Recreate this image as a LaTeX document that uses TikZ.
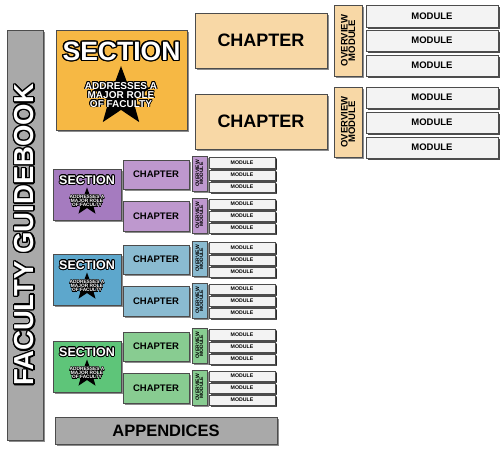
\documentclass[tikz,border=0pt]{standalone}
\usepackage{fontspec}
\setmainfont{Liberation Sans}
\usepackage{contour}
\usetikzlibrary{shapes.geometric,shadows}
\definecolor{secO}{HTML}{F6B844}
\definecolor{chO}{HTML}{F8D8A6}
\definecolor{secP}{HTML}{A57BBF}
\definecolor{chP}{HTML}{BE98CE}
\definecolor{secB}{HTML}{5DA7CC}
\definecolor{chB}{HTML}{8ABBD1}
\definecolor{secG}{HTML}{5EC579}
\definecolor{chG}{HTML}{88CC91}
\definecolor{modF}{HTML}{F3F3F3}
\definecolor{barG}{HTML}{A9A9A9}
\newcommand\wt[2]{{\contourlength{#1}\contour{black}{#2}}}
\newcommand\fs[1]{\bfseries\fontsize{#1}{#1}\selectfont}
\tikzset{
 bx/.style={draw=black!70, line width=0.6pt, inner sep=0pt,
   drop shadow={shadow xshift=2pt,shadow yshift=-2pt,opacity=0.45,fill=black}},
 bigmod/.style={bx, fill=modF, font=\fs{9.5}},
 smod/.style={bx, fill=modF, font=\fs{5.2}, drop shadow={shadow xshift=1.5pt,shadow yshift=-1.5pt,opacity=0.45,fill=black}},
}
\newcommand\bx[7]{%
 \node[bx,#6,minimum width={((#4)-(#2))*1pt},minimum height={((#5)-(#3))*1pt}] (#1) at ({((#2)+(#4))/2},{((#3)+(#5))/2}) {#7};}
\begin{document}
\begin{tikzpicture}[x=1pt,y=-1pt]
\useasboundingbox (0,0) rectangle (504,454);
% bar
\bx{bar}{7}{30}{43}{440}{fill=barG}{}
\node[rotate=90, text=white, font=\fs{27.5}] (bart) at (bar.center) {\wt{1.3pt}{FACULTY GUIDEBOOK}};
% big section
\bx{secO}{56}{30}{187}{130}{fill=secO}{}
\node[text=white, font=\fs{26.5}] (secOt) at (121.5,52) {\wt{1.4pt}{SECTION}};
\node[star, star points=5, star point ratio=2.4, fill=black, minimum size=62pt, inner sep=0pt] (starO) at (121,97) {};
\node[text=white, font=\fs{10}, align=center] (secOa) at (121,95) {\wt{0.8pt}{ADDRESSES A}\\[-1pt]\wt{0.8pt}{MAJOR ROLE}\\[-1pt]\wt{0.8pt}{OF FACULTY}};
% big chapters
\bx{chO1}{195}{13}{327}{68}{fill=chO, font=\fs{18}}{CHAPTER}
\bx{chO2}{195}{94}{327}{149}{fill=chO, font=\fs{18}}{CHAPTER}
\bx{ovO1}{334}{5}{362}{76}{fill=chO}{}
\node[rotate=90, font=\fs{9.5}, align=center] (ovO1t) at (ovO1.center) {OVERVIEW\\[-2pt]MODULE};
\bx{ovO2}{334}{87}{362}{157}{fill=chO}{}
\node[rotate=90, font=\fs{9.5}, align=center] (ovO2t) at (ovO2.center) {OVERVIEW\\[-2pt]MODULE};
\bx{mO1}{366}{5}{498}{27}{bigmod}{MODULE}
\bx{mO2}{366}{30}{498}{51}{bigmod}{MODULE}
\bx{mO3}{366}{55}{498}{76}{bigmod}{MODULE}
\bx{mO4}{366}{87}{498}{108}{bigmod}{MODULE}
\bx{mO5}{366}{112}{498}{133}{bigmod}{MODULE}
\bx{mO6}{366}{137}{498}{158}{bigmod}{MODULE}
% small groups
\foreach \b/\sc/\cc/\n in {156/secP/chP/p,241/secB/chB/b,328/secG/chG/g}{
 \bx{sec\n}{53}{\b+13}{121}{\b+64}{fill=\sc}{}
 \node[text=white, font=\fs{12.5}] (sect\n) at (87,\b+24.5) {\wt{0.8pt}{SECTION}};
 \node[star, star points=5, star point ratio=2.4, fill=black, minimum size=29pt, inner sep=0pt] (star\n) at (87,\b+46) {};
 \node[text=white, font=\fs{4.8}, align=center] (seca\n) at (87,\b+45.5) {\wt{0.4pt}{ADDRESSES A}\\[-0.8pt]\wt{0.4pt}{MAJOR ROLE}\\[-0.8pt]\wt{0.4pt}{OF FACULTY}};
 \bx{ch\n1}{123}{\b+4}{189}{\b+33}{fill=\cc, font=\fs{9.5}}{CHAPTER}
 \bx{ch\n2}{123}{\b+45}{189}{\b+75}{fill=\cc, font=\fs{9.5}}{CHAPTER}
 \bx{ov\n1}{192}{\b}{207}{\b+35}{fill=\cc}{}
 \node[rotate=90, font=\fs{5}, align=center] (ov\n1t) at (ov\n1.center) {OVERVIEW\\[-1pt]MODULE};
 \bx{ov\n2}{192}{\b+42}{207}{\b+77}{fill=\cc}{}
 \node[rotate=90, font=\fs{5}, align=center] (ov\n2t) at (ov\n2.center) {OVERVIEW\\[-1pt]MODULE};
 \bx{m\n1}{209}{\b+1}{275}{\b+12}{smod}{MODULE}
 \bx{m\n2}{209}{\b+14}{275}{\b+24}{smod}{MODULE}
 \bx{m\n3}{209}{\b+26}{275}{\b+36}{smod}{MODULE}
 \bx{m\n4}{209}{\b+43}{275}{\b+53}{smod}{MODULE}
 \bx{m\n5}{209}{\b+55}{275}{\b+65}{smod}{MODULE}
 \bx{m\n6}{209}{\b+67}{275}{\b+77}{smod}{MODULE}
}
% appendices
\bx{app}{55}{417}{277}{444}{fill=barG, font=\fs{16.5}}{APPENDICES}
\end{tikzpicture}
\end{document}
